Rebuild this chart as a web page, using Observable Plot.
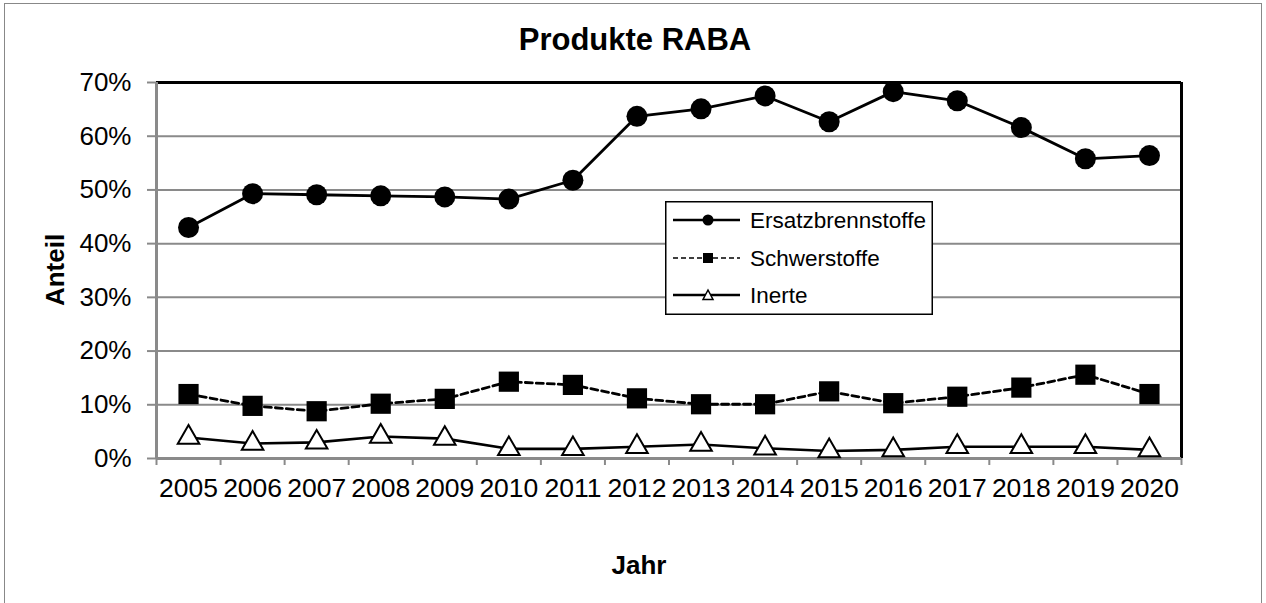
<!DOCTYPE html>
<html>
<head>
<meta charset="utf-8">
<script src="https://cdn.jsdelivr.net/npm/d3@7"></script>
<script src="https://cdn.jsdelivr.net/npm/@observablehq/plot@0.6"></script>
<style>
  html, body { margin: 0; padding: 0; background: #fff; }
  #wrap { position: relative; width: 1266px; height: 603px; overflow: hidden; font-family: "Liberation Sans", Arial, sans-serif; }
  #border { position: absolute; left: 4px; top: 3px; width: 1258px; height: 640px; border: 1.5px solid #888; box-sizing: border-box; }
  #chart { position: absolute; left: 0; top: 0; }
  .ov { position: absolute; color: #000; font-weight: bold; white-space: nowrap; }
  #title { left: 0; width: 1270px; top: 22px; text-align: center; font-size: 31px; line-height: 36px; }
  #ylab { left: 55px; top: 270px; font-size: 26px; transform: translate(-50%, -50%) rotate(-90deg); }
  #xlab { left: 639px; top: 565px; font-size: 26px; transform: translate(-50%, -50%); }
  #legend { position: absolute; left: 665px; top: 201px; }
</style>
</head>
<body>
<div id="wrap">
  <div id="border"></div>
  <div id="chart"></div>
  <div id="title" class="ov">Produkte RABA</div>
  <div id="ylab" class="ov">Anteil</div>
  <div id="xlab" class="ov">Jahr</div>
  <div id="legend"></div>
</div>
<script>
// ---- Data ----
const years = [2005, 2006, 2007, 2008, 2009, 2010, 2011, 2012, 2013, 2014, 2015, 2016, 2017, 2018, 2019, 2020];
const ersatzbrennstoffe = [43.0, 49.3, 49.1, 48.9, 48.7, 48.3, 51.8, 63.7, 65.1, 67.5, 62.7, 68.3, 66.6, 61.6, 55.8, 56.4];
const schwerstoffe = [12.0, 9.8, 8.8, 10.2, 11.1, 14.3, 13.7, 11.2, 10.1, 10.1, 12.5, 10.3, 11.5, 13.2, 15.6, 12.0];
const inerte = [3.9, 2.8, 3.0, 4.1, 3.7, 1.8, 1.8, 2.2, 2.6, 1.9, 1.4, 1.6, 2.2, 2.2, 2.2, 1.6];
const seriesNames = ["Ersatzbrennstoffe", "Schwerstoffe", "Inerte"];
const yTicks = [0, 10, 20, 30, 40, 50, 60, 70];
const yGrid = [10, 20, 30, 40, 50, 60];
const xBounds = [2004.5, 2005.5, 2006.5, 2007.5, 2008.5, 2009.5, 2010.5, 2011.5, 2012.5, 2013.5, 2014.5, 2015.5, 2016.5, 2017.5, 2018.5, 2019.5, 2020.5];

const rows = (vals) => years.map((y, i) => ({year: y, value: vals[i]}));
const dE = rows(ersatzbrennstoffe), dS = rows(schwerstoffe), dI = rows(inerte);

const gray = "#8a8a8a";

const chart = Plot.plot({
  width: 1266,
  height: 603,
  marginLeft: 156,
  marginRight: 85,
  marginTop: 82,
  marginBottom: 145,
  style: {fontFamily: "'Liberation Sans', Arial, sans-serif", fontSize: "25px", background: "transparent", color: "#000"},
  x: {type: "linear", domain: [2004.5, 2020.5]},
  y: {type: "linear", domain: [0, 70]},
  marks: [
    Plot.ruleY(yGrid, {stroke: gray, strokeWidth: 2}),
    Plot.axisY({ticks: yTicks, tickSize: 9, tickPadding: 16, tickFormat: d => d + "%", fontSize: 26, stroke: gray, strokeWidth: 2, label: null}),
    Plot.axisX({ticks: years, tickSize: 0, tickPadding: 20, tickFormat: d => String(d), fontSize: 26.5, label: null}),
    Plot.axisX({ticks: xBounds, tickSize: 7, tickFormat: () => "", stroke: gray, strokeWidth: 2, label: null}),
    Plot.ruleY([70], {stroke: "#000", strokeWidth: 3}),
    Plot.ruleX([2020.5], {y1: 0, y2: 70, stroke: "#000", strokeWidth: 3}),
    Plot.ruleX([2004.5], {y1: 0, y2: 70, stroke: gray, strokeWidth: 3}),
    Plot.ruleY([0], {stroke: gray, strokeWidth: 3}),
    Plot.line(dE, {x: "year", y: "value", stroke: "#000", strokeWidth: 2.8}),
    Plot.line(dS, {x: "year", y: "value", stroke: "#000", strokeWidth: 2.8, strokeDasharray: "7,4"}),
    Plot.line(dI, {x: "year", y: "value", stroke: "#000", strokeWidth: 2.6}),
    Plot.dot(dE, {x: "year", y: "value", symbol: "circle", r: 10.5, fill: "#000", stroke: "none"}),
    Plot.dot(dS, {x: "year", y: "value", symbol: "square", r: 11.4, fill: "#000", stroke: "none"}),
    Plot.dot(dI, {x: "year", y: "value", symbol: "triangle", r: 8, fill: "#fff", stroke: "#000", strokeWidth: 2})
  ]
});
document.getElementById("chart").appendChild(chart);

// ---- Legend ----
const lw = 268, lh = 114;
const leg = d3.select("#legend").append("svg").attr("width", lw).attr("height", lh);
leg.append("rect").attr("x", 0.75).attr("y", 0.75).attr("width", lw - 1.5).attr("height", lh - 1.5)
  .attr("fill", "#fff").attr("stroke", "#000").attr("stroke-width", 1.5);
const rowY = [19, 57, 94];
seriesNames.forEach((name, i) => {
  const g = leg.append("g").attr("transform", `translate(0,${rowY[i]})`);
  g.append("line").attr("x1", 8).attr("x2", 75).attr("y1", 0).attr("y2", 0)
    .attr("stroke", "#000").attr("stroke-width", i === 1 ? 1.6 : 2.5)
    .attr("stroke-dasharray", i === 1 ? "5,3" : null);
  if (i === 0) g.append("circle").attr("cx", 43).attr("cy", 0).attr("r", 5.5).attr("fill", "#000");
  if (i === 1) g.append("rect").attr("x", 38).attr("y", -5).attr("width", 10).attr("height", 10).attr("fill", "#000");
  if (i === 2) g.append("path").attr("d", "M43,-5 L48,4.5 L38,4.5 Z").attr("fill", "#fff").attr("stroke", "#000").attr("stroke-width", 1.5);
  g.append("text").attr("x", 85).attr("y", 0).attr("dy", "0.36em")
    .attr("font-family", "'Liberation Sans', Arial, sans-serif").attr("font-size", 22.5).attr("fill", "#000").text(name);
});
</script>
</body>
</html>
